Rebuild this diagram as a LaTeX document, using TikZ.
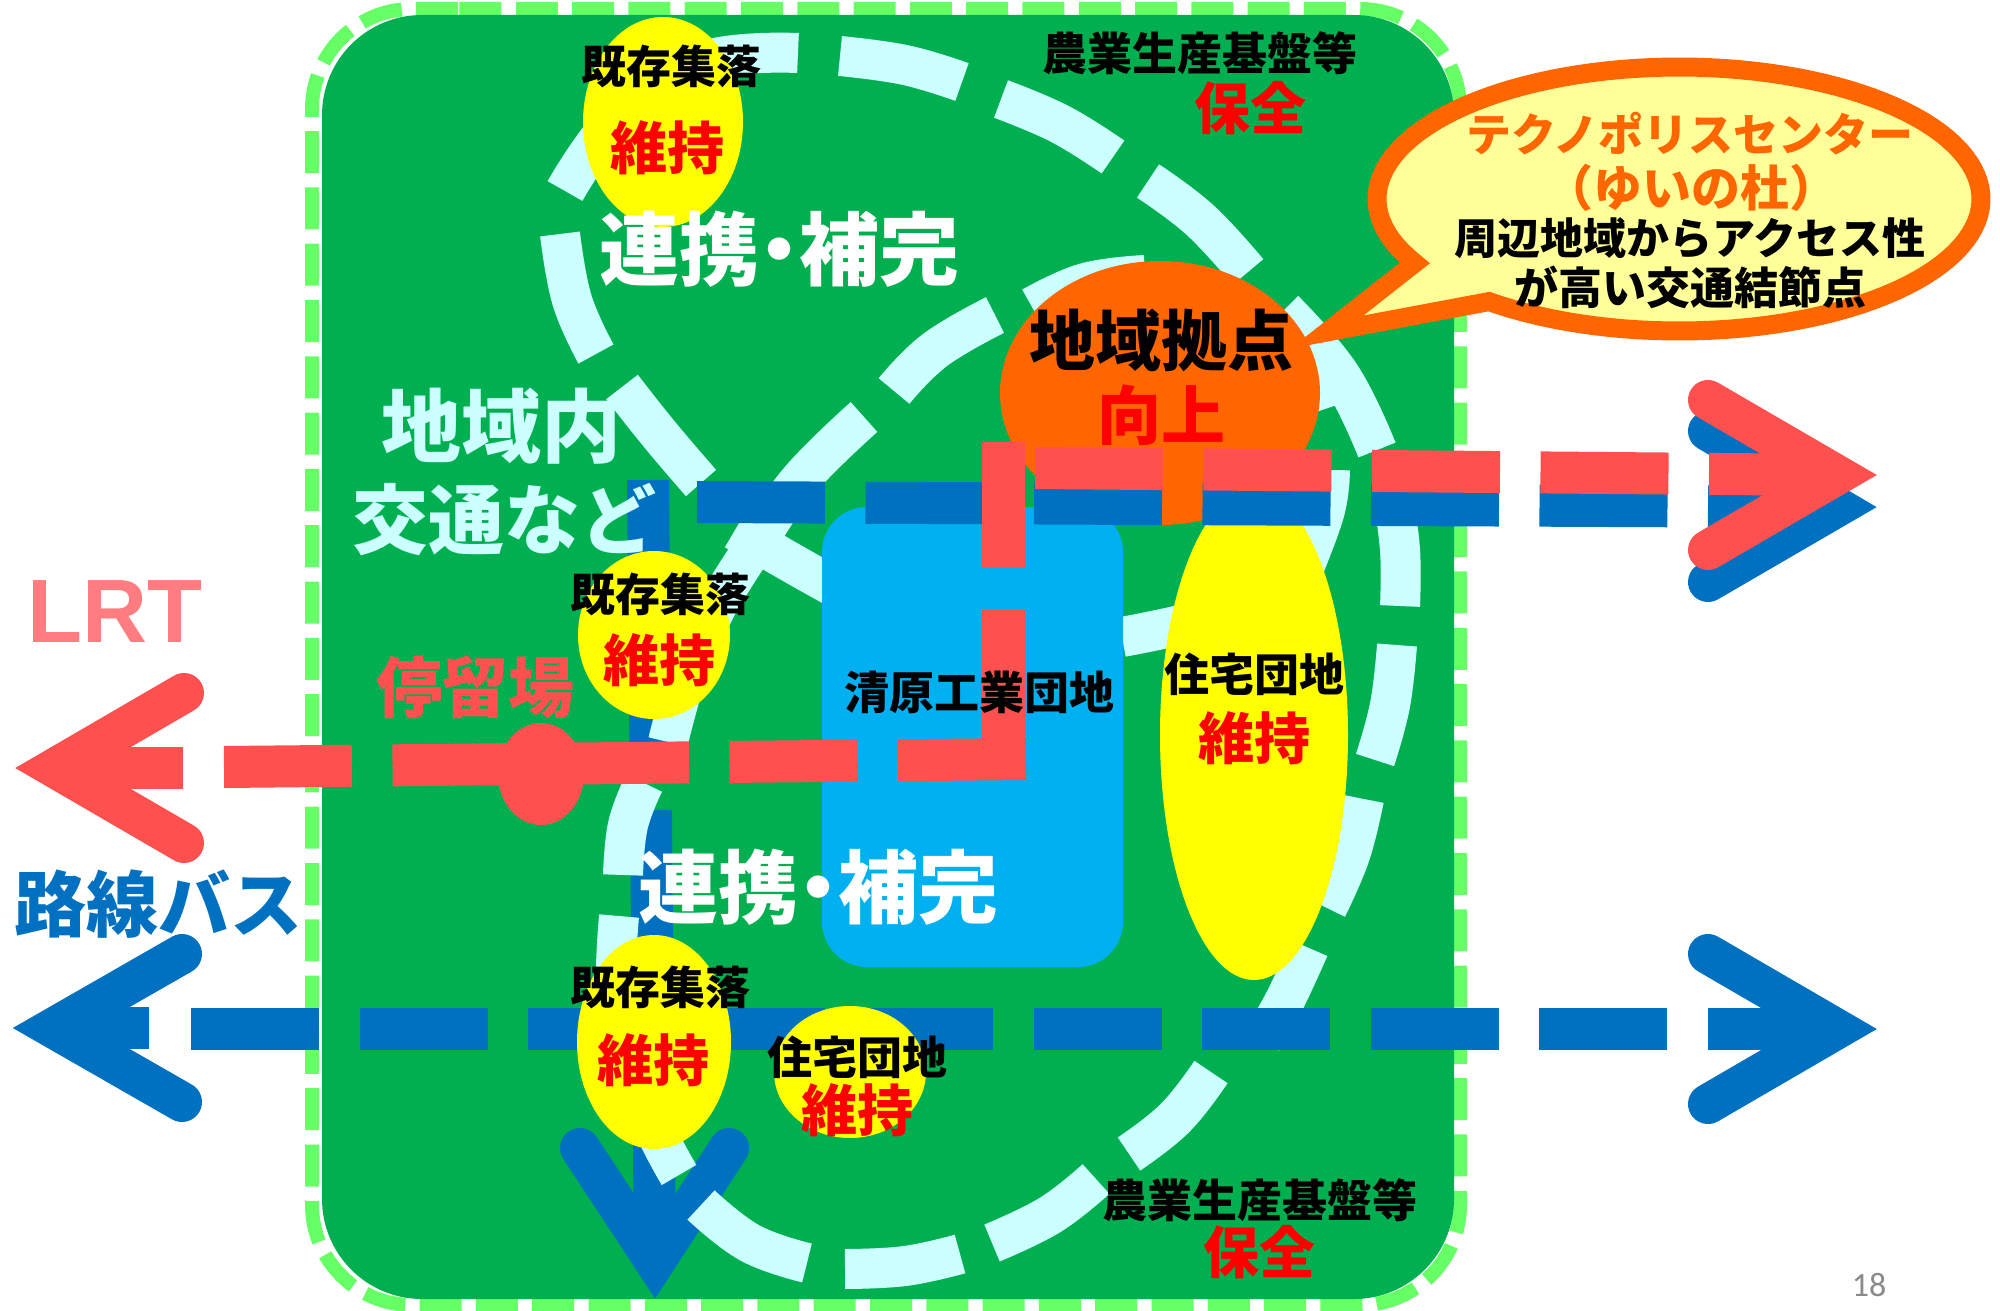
\documentclass[tikz,border=0pt]{standalone}
\usepackage{fontspec}
\setmainfont{Noto Sans CJK JP}
\newfontfamily\numfont{Carlito}
\newfontfamily\latinbold{Liberation Sans}
\definecolor{fieldgreen}{HTML}{00B050}
\definecolor{rimgreen}{HTML}{66FF66}
\definecolor{paleblue}{HTML}{CCFFFF}
\definecolor{skyblue}{HTML}{00B0F0}
\definecolor{busblue}{HTML}{0070C0}
\definecolor{lrtred}{HTML}{FF5050}
\definecolor{lrtpink}{HTML}{FF7C80}
\definecolor{hubor}{HTML}{FF6600}
\definecolor{balloonfill}{HTML}{FFFF99}
\definecolor{pureyellow}{HTML}{FFFF00}
\definecolor{purered}{HTML}{FF0000}
\tikzset{
  txt/.style={inner sep=0pt,font=\bfseries\fontsize{#1}{#1}\selectfont},
  cy/.style={draw=paleblue,line width=40pt,line cap=butt},
  busline/.style={draw=busblue,line width=42pt,dash pattern=on 128pt off 40.5pt},
  lrtline/.style={draw=lrtred,line width=42pt,dash pattern=on 128pt off 40.5pt},
  chevron/.style={line width=40pt,line cap=round,line join=miter},
  blob/.style={ellipse,inner sep=0pt,draw=none,minimum width=2*#1}
}
\usetikzlibrary{shapes.geometric}
\newcommand{\cyseg}[1]{\draw[cy] plot[smooth,tension=0.7] coordinates {#1};}
\newcommand{\dotsep}{\hspace{-0.25em}・\hspace{-0.25em}}
\begin{document}
\begin{tikzpicture}[x=1pt,y=-1pt]
\useasboundingbox (0,0) rectangle (2000,1311);
\fill[white] (0,0) rectangle (2000,1311);
% border and field
\draw[rimgreen,line width=14pt,rounded corners=100pt,dash pattern=on 42pt off 14.3pt]
  (458,9) -- (312,9) -- (312,1305) -- (1460,1305) -- (1460,9) -- (458,9);
\fill[fieldgreen,rounded corners=100pt] (322,15) rectangle (1454,1299);
% vertical bus line (under the pale loop)
\coordinate (vbusTop) at (648,480);
\coordinate (vbusEnd) at (655,1262);
\coordinate (vbusL) at (580,1148);
\coordinate (vbusR) at (729,1148);
\draw[busline,dash pattern=on 128pt off 37pt] (vbusTop) -- (vbusEnd);
\draw[chevron,busblue] (vbusL) -- (vbusEnd) -- (vbusR);
% pale loop
\cyseg{(798,53)(700,62)(620,115)(565,191)}
\cyseg{(840,56)(905,65)(962,82)}
\cyseg{(1001,99)(1060,124)(1113,157)}
\cyseg{(1148,181)(1200,220)(1248,272)}
\cyseg{(1284,310)(1340,375)(1377,450)}
\cyseg{(1392,490)(1400,550)(1400,606)}
\cyseg{(1397,645)(1390,705)(1375,760)}
\cyseg{(1364,799)(1350,855)(1327,908)}
\cyseg{(1309,948)(1285,1000)(1262,1040)}
\cyseg{(1211,1072)(1175,1118)(1129,1154)}
\cyseg{(1096,1179)(1050,1215)(992,1243)}
\cyseg{(960,1254)(905,1266)(845,1269)}
\cyseg{(807,1263)(750,1243)(701,1205)}
\cyseg{(679,1175)(660,1140)(640,1095)}
\cyseg{(619,916)(616,980)(622,1040)}
\cyseg{(623,875)(628,825)(644,783)}
\cyseg{(668,742)(690,665)(721,598)}
\cyseg{(721,598)(755,545)(800,480)(864,417)}
\cyseg{(894,391)(935,350)(995,315)}
\cyseg{(1032,307)(1085,283)(1145,275)}
\cyseg{(1220,300)(1290,350)(1322,410)}
\cyseg{(1330,470)(1325,510)(1305,565)}
\cyseg{(1122,637)(1200,620)(1250,600)}
\cyseg{(735,530)(790,562)(840,590)}
\cyseg{(622,387)(660,435)(701,483)}
\cyseg{(560,234)(572,300)(596,354)}
% industrial park
\fill[skyblue,rounded corners=45pt] (822,507) rectangle (1123,967);
% bus line, bottom
\coordinate (busLtip) at (53,1028);
\coordinate (busLu) at (182,954);
\coordinate (busLd) at (182,1102);
\coordinate (busRtip) at (1837,1029);
\coordinate (busRu) at (1708,954);
\coordinate (busRd) at (1708,1104);
\coordinate (busA) at (191,1029);
\draw[chevron,busblue] (busLu) -- (busLtip) -- (busLd);
\draw[busblue,line width=42pt] (busLtip) -- (149,1028);
\draw[busline] (busA) -- (busRtip);
\draw[chevron,busblue] (busRu) -- (busRtip) -- (busRd);
% settlements and hub
\node[blob=80pt,fill=pureyellow,minimum height=210pt] (settleA) at (663,122) {};
\node[blob=76pt,fill=pureyellow,minimum height=168pt] (settleB) at (654,635) {};
\node[blob=77pt,fill=pureyellow,minimum height=214pt] (settleC) at (654,1042) {};
\node[blob=76pt,fill=pureyellow,minimum height=132pt] (estateA) at (850,1072) {};
\node[blob=94pt,fill=pureyellow,minimum height=490pt] (estateB) at (1254,735) {};
\node[blob=160pt,fill=hubor,minimum height=264pt] (hub) at (1160,393) {};
\node[blob=43pt,fill=lrtred,minimum height=102pt] (stopmark) at (541,774) {};
% upper bus line
\coordinate (ubA) at (697,502);
\coordinate (ubTip) at (1837,507);
\coordinate (ubU) at (1708,431);
\coordinate (ubD) at (1708,582);
\draw[busline] (ubA) -- (ubTip);
\draw[chevron,busblue] (ubU) -- (ubTip) -- (ubD);
% LRT
\coordinate (lrA) at (224,767);
\coordinate (lrB) at (1026,759);
\coordinate (lrLtip) at (55,768);
\coordinate (lrLu) at (184,693);
\coordinate (lrLd) at (184,843);
\coordinate (lrC) at (1035,468);
\coordinate (lrTip) at (1837,475);
\coordinate (lrRu) at (1708,400);
\coordinate (lrRd) at (1708,550);
\draw[chevron,lrtred] (lrLu) -- (lrLtip) -- (lrLd);
\draw[lrtred,line width=42pt] (lrLtip) -- (183,768);
\draw[lrtline] (lrA) -- (lrB);
\draw[lrtred,line width=43pt] (1003,610) -- (1003,779);
\draw[lrtred,line width=43pt] (1003,442) -- (1003,568);
\draw[lrtline] (lrC) -- (lrTip);
\draw[chevron,lrtred] (lrRu) -- (lrTip) -- (lrRd);
% balloon
\draw[hubor,line width=19pt,fill=balloonfill,line join=miter]
  (1327,332) -- plot[domain=129:-209,samples=120,variable=\t] ({1679+302*cos(\t)},{199+132*sin(\t)}) -- cycle;
% labels
\node[txt=45] (t1) at (671,66) {既存集落};
\node[txt=57,purered] (t2) at (667,148) {維持};
\node[txt=80,white] (t3) at (779,249) {連携\dotsep 補完};
\node[txt=80,paleblue] (t4) at (501,426) {地域内};
\node[txt=76,paleblue] (t5) at (504,520) {交通など};
\node[txt=45] (t6) at (660,594) {既存集落};
\node[txt=56,purered] (t7) at (659,660) {維持};
\node[txt=66,lrtred] (t8) at (475,687) {停留場};
\node[inner sep=0pt,font=\latinbold\bfseries\fontsize{90}{90}\selectfont,lrtpink] (t9) at (115,612) {LRT};
\node[txt=72,busblue] (t10) at (158,904) {路線バス};
\node[txt=80,white] (t11) at (818,887) {連携\dotsep 補完};
\node[txt=45] (t12) at (979,692) {清原工業団地};
\node[txt=45] (t13) at (660,987) {既存集落};
\node[txt=56,purered] (t14) at (653,1060) {維持};
\node[txt=45] (t15) at (857,1057) {住宅団地};
\node[txt=56,purered] (t16) at (857,1110) {維持};
\node[txt=45] (t17) at (1254,674) {住宅団地};
\node[txt=56,purered] (t18) at (1254,738) {維持};
\node[txt=45] (t19) at (1200,53) {農業生産基盤等};
\node[txt=56,purered] (t20) at (1250,108) {保全};
\node[txt=45] (t21) at (1260,1200) {農業生産基盤等};
\node[txt=56,purered] (t22) at (1259,1252) {保全};
\node[txt=66] (t23) at (1161,340) {地域拠点};
\node[txt=64,purered] (t24) at (1161,415) {向上};
\node[txt=45,hubor] (t25) at (1690,134) {テクノポリスセンター};
\node[txt=49,hubor] (t26) at (1691,188) {（ゆいの杜）};
\node[txt=43] (t27) at (1690,238) {周辺地域からアクセス性};
\node[txt=44] (t28) at (1690,287) {が高い交通結節点};
\node[inner sep=0pt,font=\numfont\fontsize{34}{34}\selectfont,text=black!46] (t29) at (1869,1285) {18};
\end{tikzpicture}
\end{document}
